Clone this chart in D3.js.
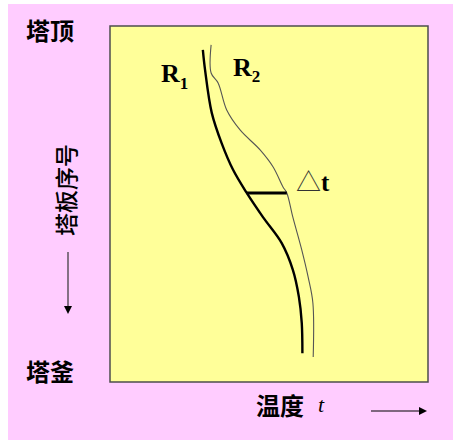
<!DOCTYPE html>
<html lang="zh">
	<head>
		<meta charset="utf-8">
		<title>塔板温度分布</title>
		<script type="text/javascript" src="https://cdn.jsdelivr.net/npm/d3@7"></script>
		<style type="text/css">
			body { margin: 0; background: #fff; }
			.cjk { font-family: "Noto Sans CJK SC", sans-serif; }
			.serif { font-family: "Liberation Serif", "Times New Roman", serif; }
		</style>
	</head>
	<body>
		<script type="text/javascript">

			//Width and height
			var w = 453;
			var h = 441;

			//Curve data: [temperature, plate position] (0 = top, 100 = bottom)
			var r1 = [[29.2,6.7],[29.9,12.4],[32.0,24.4],[35.1,32.9],[38.7,40.4],[43.0,46.9],
			          [48.1,53.7],[54.0,61.0],[57.5,68.5],[59.4,76.1],[60.3,83.4],[60.5,91.9]];
			var r2 = [[31.8,5.3],[31.8,13.2],[34.0,16.0],[36.7,23.6],[40.9,29.2],[47.2,34.8],
			          [51.3,39.6],[54.4,45.2],[55.6,46.9],[57.5,53.7],[60.3,62.9],[62.3,70.5],
			          [63.8,77.8],[63.9,93.0]];
			var deltaT = [[43.0,46.9],[55.6,46.9]];

			var labels = { top: "塔顶", bottom: "塔釜", yTitle: "塔板序号", xTitle: "温度" };

			//Create SVG element
			var svg = d3.select("body")
						.append("svg")
						.attr("width", w)
						.attr("height", h);

			//pink background
			svg.append("rect")
			   .attr("x", 8).attr("y", 4)
			   .attr("width", w - 8).attr("height", 436)
			   .style("fill", "#ffccff");

			//plot area
			var box = { x0: 110, y0: 26, x1: 428, y1: 382 };

			var x = d3.scaleLinear().domain([0, 100]).range([box.x0, box.x1]);
			var y = d3.scaleLinear().domain([0, 100]).range([box.y0, box.y1]);

			svg.append("rect")
			   .attr("x", box.x0).attr("y", box.y0)
			   .attr("width", box.x1 - box.x0).attr("height", box.y1 - box.y0)
			   .style("fill", "#ffff99")
			   .style("stroke", "#4d4d4d")
			   .style("stroke-width", 1.5);

			var line = d3.line()
						 .x(function(d) { return x(d[0]); })
						 .y(function(d) { return y(d[1]); })
						 .curve(d3.curveCatmullRom.alpha(0.5));

			svg.append("path")
			   .attr("d", line(r2))
			   .style("fill", "none")
			   .style("stroke", "#555")
			   .style("stroke-width", 1.1);

			svg.append("path")
			   .attr("d", line(r1))
			   .style("fill", "none")
			   .style("stroke", "#000")
			   .style("stroke-width", 2.4);

			svg.append("path")
			   .attr("d", d3.line().x(function(d) { return x(d[0]); }).y(function(d) { return y(d[1]); })(deltaT))
			   .style("stroke", "#000")
			   .style("stroke-width", 3);

			//curve labels
			var rLab = svg.append("text").attr("class", "serif")
						  .attr("x", 161).attr("y", 82)
						  .style("font-size", "26px").style("font-weight", "bold");
			rLab.append("tspan").text("R");
			rLab.append("tspan").attr("dy", 7).style("font-size", "17px").text("1");

			var rLab2 = svg.append("text").attr("class", "serif")
						   .attr("x", 233).attr("y", 76)
						   .style("font-size", "26px").style("font-weight", "bold");
			rLab2.append("tspan").text("R");
			rLab2.append("tspan").attr("dy", 6).style("font-size", "17px").text("2");

			var dLab = svg.append("text").attr("x", 296).attr("y", 191);
			dLab.append("tspan").attr("class", "cjk").style("font-size", "25px").style("fill", "#333").text("△");
			dLab.append("tspan").attr("class", "serif").style("font-size", "25px").style("font-weight", "bold").text("t");

			//side labels
			svg.append("text").attr("class", "cjk")
			   .attr("x", 26).attr("y", 29)
			   .attr("dominant-baseline", "central")
			   .style("font-size", "24px").style("font-weight", "bold")
			   .text(labels.top);

			svg.append("text").attr("class", "cjk")
			   .attr("x", 26).attr("y", 370)
			   .attr("dominant-baseline", "central")
			   .style("font-size", "24px").style("font-weight", "bold")
			   .text(labels.bottom);

			svg.append("text").attr("class", "cjk")
			   .attr("transform", "translate(64.5,190) rotate(-90)")
			   .attr("text-anchor", "middle")
			   .attr("dominant-baseline", "central")
			   .style("font-size", "23px").style("font-weight", "500")
			   .text(labels.yTitle);

			var xt = svg.append("text").attr("x", 256).attr("y", 404)
						.attr("dominant-baseline", "central");
			xt.append("tspan").attr("class", "cjk")
			  .style("font-size", "24px").style("font-weight", "bold")
			  .text(labels.xTitle);
			xt.append("tspan").attr("class", "serif").attr("dx", 14)
			  .style("font-size", "22px").style("font-style", "italic")
			  .text("t");

			//arrows
			svg.append("line").attr("x1", 68).attr("y1", 252).attr("x2", 68).attr("y2", 308)
			   .style("stroke", "#333").style("stroke-width", 1.2);
			svg.append("path").attr("d", "M64,306L72,306L68,314Z").style("fill", "#000");

			svg.append("line").attr("x1", 371).attr("y1", 411).attr("x2", 421).attr("y2", 411)
			   .style("stroke", "#000").style("stroke-width", 1.2);
			svg.append("path").attr("d", "M419,407L419,415L427,411Z").style("fill", "#000");

		</script>
	</body>
</html>
